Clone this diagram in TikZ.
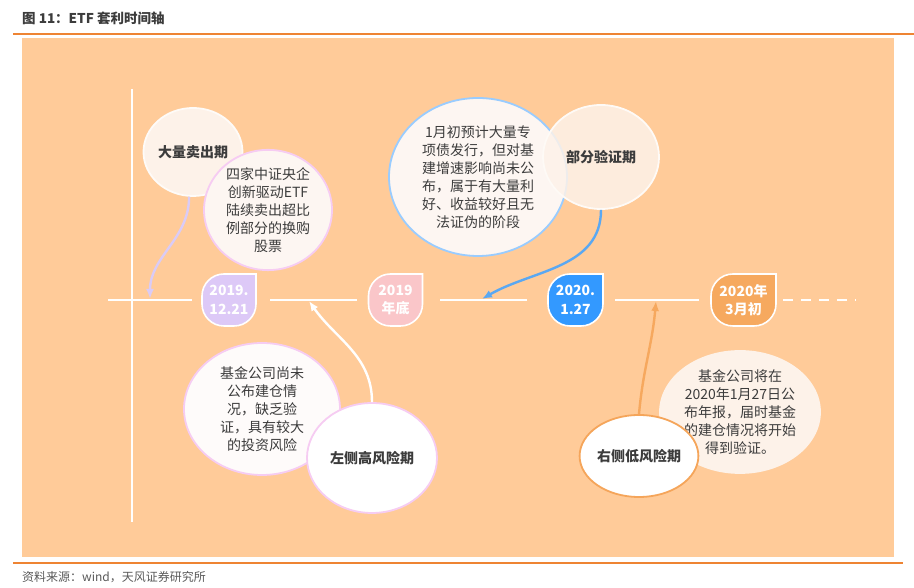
\documentclass[tikz,border=0pt]{standalone}
\usepackage{fontspec}
\setmainfont{Noto Sans CJK SC}
\usetikzlibrary{shapes.geometric,arrows.meta}
\definecolor{bgor}{HTML}{FFCB99}
\definecolor{rule}{HTML}{EE8433}
\definecolor{txt}{HTML}{3C3C3C}
\definecolor{bpurple}{HTML}{DDC9F7}
\definecolor{bpink}{HTML}{FAC6C9}
\definecolor{bblue}{HTML}{3399FF}
\definecolor{borange}{HTML}{F6A95F}
\definecolor{cream}{HTML}{FDF2E9}
\definecolor{cream2}{HTML}{FDF6F2}
\definecolor{pinkline}{HTML}{F6CCF2}
\definecolor{blueline}{HTML}{99CCFF}
\definecolor{lavarrow}{HTML}{DACBF6}
\definecolor{bluearrow}{HTML}{5AA8F2}
\definecolor{orarrow}{HTML}{F6A85E}
\definecolor{orline}{HTML}{F5A55A}
\tikzset{
  ell/.style={ellipse, inner sep=0pt, align=center, text=txt, line width=1.8pt,
    font=\fontsize{14}{18}\selectfont},
  boldell/.style={ell, font=\fontsize{14}{18}\selectfont\bfseries},
  badgetext/.style={align=center, text=white, inner sep=0pt,
    font=\fontsize{14}{18.5}\selectfont\bfseries},
  tline/.style={draw=white, line width=1.8pt},
  conn/.style={line width=2.4pt, -{Latex[length=10pt,width=8pt]}},
}
\newcommand{\tlbadge}[6]{% name, x, y, halfwidth, color, text
  \begin{scope}[shift={(#2,#3)}]
    \draw[fill=#5, draw=white, line width=1.6pt]
      (#4,26) -- (#4,-4) arc[start angle=0,end angle=-90,radius=22pt]
      -- ({-#4+22},-26) arc[start angle=270,end angle=180,radius=22pt]
      -- (-#4,4) arc[start angle=180,end angle=90,radius=22pt] -- cycle;
  \end{scope}
  \node[badgetext] (#1) at (#2,#3) {#6};
}
\begin{document}
\begin{tikzpicture}[x=1pt,y=1pt]
\useasboundingbox (0,0) rectangle (914,588);
% header / footer
\node[anchor=west, inner sep=0pt, text=txt, font=\fontsize{13.5}{16}\selectfont\bfseries] (title) at (22,570) {图 11：ETF 套利时间轴};
\draw[rule, line width=1.2pt] (13,554) -- (914,554);
\fill[bgor] (22,550) rectangle (894,31);
\draw[rule, line width=1.2pt] (13,25) -- (903,25);
\node[anchor=west, inner sep=0pt, text=txt!85, font=\fontsize{12}{14}\selectfont] (src) at (22,11) {资料来源：wind，天风证券研究所};
% axes
\draw[tline] (132,499) -- (132,66);
\draw[tline] (108,288) -- (192,288);
\draw[tline] (270,288) -- (357,288);
\draw[tline] (440,288) -- (527,288);
\draw[tline] (615,288) -- (699,288);
\draw[tline, dash pattern=on 10pt off 8pt] (783,288) -- (856,288);
% badges
\tlbadge{b1}{229}{288}{27}{bpurple}{2019.\\12.21}
\tlbadge{b2}{395.5}{288}{27}{bpink}{2019\\年底}
\tlbadge{b3}{575.5}{288}{27.5}{bblue}{2020.\\1.27}
\tlbadge{b4}{743.5}{288}{32.5}{borange}{2020年\\3月初}
% top-left
\node[boldell, fill=cream, draw=white!70!cream, minimum width=94pt, minimum height=88pt] (e1) at (193,436) {大量卖出期};
\node[ell, fill=cream2, draw=pinkline, minimum width=128pt, minimum height=110pt] (e2) at (268,378) {四家中证央企\\创新驱动ETF\\陆续卖出超比\\例部分的换购\\股票};
% top-middle
\node[ell, fill=cream2, draw=blueline, minimum width=178pt, minimum height=158pt] (e3) at (478,411) {1月初预计大量专\\项债发行，但对基\\建增速影响尚未公\\布，属于有大量利\\好、收益较好且无\\法证伪的阶段};
\node[boldell, fill=cream, fill opacity=0.85, text opacity=1, draw=white!60!cream, minimum width=116pt, minimum height=104pt] (e4) at (601,431) {部分验证期};
% bottom-left
\node[ell, fill=white!60!cream2, draw=pinkline, minimum width=156pt, minimum height=132pt] (e5) at (262,179) {基金公司尚未\\公布建仓情\\况，缺乏验\\证，具有较大\\的投资风险};
\node[boldell, fill=white, draw=pinkline, minimum width=130pt, minimum height=110pt] (e6) at (372,130) {左侧高风险期};
% bottom-right
\node[ell, fill=cream, draw=cream, minimum width=160pt, minimum height=122pt] (e7) at (740,176) {基金公司将在\\2020年1月27日公\\布年报，届时基金\\的建仓情况将开始\\得到验证。};
\node[boldell, fill=white, draw=orline, minimum width=114pt, minimum height=82pt] (e8) at (639,132) {右侧低风险期};
% arrow targets
\coordinate (p1) at (150,289);
\coordinate (p2) at (482,289);
\coordinate (p3) at (309,287);
\coordinate (p4) at (656,287);
% connectors
\draw[conn, lavarrow] (e1.265) to[out=-90,in=90] (p1);
\draw[conn, bluearrow] (e4.south) to[out=-90,in=30] (p2);
\draw[conn, white] (e6.north) to[out=90,in=-55] (p3);
\draw[conn, orarrow] (e8.north) to[out=85,in=-95] (p4);
\end{tikzpicture}
\end{document}
